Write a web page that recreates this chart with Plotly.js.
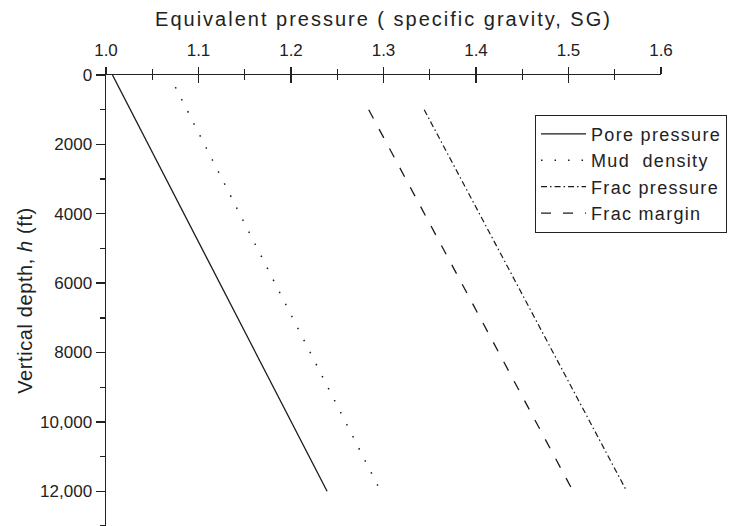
<!DOCTYPE html>
<html>
<head>
<meta charset="utf-8">
<script src="https://cdn.plot.ly/plotly-3.0.1.min.js"></script>
<style>
html,body{margin:0;padding:0;background:#fff;}
#chart{width:729px;height:526px;}
.xtitle{letter-spacing:2px;}
.ytitle{letter-spacing:0.6px;}
.legendtext{letter-spacing:1.3px;}
</style>
</head>
<body>
<div id="chart"></div>
<script>
// Data (depth in ft, equivalent pressure in SG)
const seriesNames = ["Pore pressure", "Mud  density", "Frac pressure", "Frac margin"];
const poreDepth = [0, 12000];
const poreSG = [1.007, 1.239];
const mudDepth = [350, 12000];
const mudSG = [1.075, 1.297];
const fracDepth = [1000, 12000];
const fracSG = [1.344, 1.563];
const marginDepth = [1000, 12000];
const marginSG = [1.284, 1.505];
const yTickVals = [0, 2000, 4000, 6000, 8000, 10000, 12000];
const yTickText = ["0", "2000", "4000", "6000", "8000", "10,000", "12,000"];
const xTickVals = [1.0, 1.1, 1.2, 1.3, 1.4, 1.5, 1.6];
const xTickText = ["1.0", "1.1", "1.2", "1.3", "1.4", "1.5", "1.6"];

const lineColor = "#1a1a1a";
const font = "Liberation Sans, Arial, sans-serif";

const traces = [
  {x: poreSG, y: poreDepth, name: seriesNames[0], mode: "lines",
   line: {color: lineColor, width: 1.3, dash: "solid"}},
  {x: mudSG, y: mudDepth, name: seriesNames[1], mode: "lines",
   line: {color: lineColor, width: 1.5, dash: "1.5px,12px"}},
  {x: fracSG, y: fracDepth, name: seriesNames[2], mode: "lines",
   line: {color: lineColor, width: 1.2, dash: "6px,3px,1.5px,3px"}},
  {x: marginSG, y: marginDepth, name: seriesNames[3], mode: "lines",
   line: {color: lineColor, width: 1.3, dash: "10px,12px"}},
  {x: [], y: [], xaxis: "x2", showlegend: false, hoverinfo: "skip"}
];

const axColor = "#222";
const layout = {
  width: 729, height: 526,
  margin: {l: 106, r: 68, t: 75, b: 0, pad: 0},
  paper_bgcolor: "#fff", plot_bgcolor: "#fff",
  font: {family: font, size: 17, color: "#222"},
  showlegend: true,
  legend: {
    x: 1.119, xanchor: "right", y: 0.912, yanchor: "top",
    bordercolor: "#222", borderwidth: 1, bgcolor: "#fff",
    font: {family: font, size: 18, color: "#222"},
    itemwidth: 45, tracegroupgap: 0
  },
  xaxis: {
    side: "top", range: [1.0, 1.6],
    tickvals: xTickVals, ticktext: xTickText,
    ticks: "outside", ticklen: 7, tickwidth: 1.3, tickcolor: axColor,
    ticklabelstandoff: 4,
    minor: {dtick: 0.05, tick0: 1.0, ticks: "outside", ticklen: 4.5, tickwidth: 1.3, tickcolor: axColor},
    showline: true, linecolor: axColor, linewidth: 1.5,
    showgrid: false, zeroline: false,
    tickfont: {family: font, size: 17, color: "#222"},
    title: {text: "Equivalent pressure ( specific gravity, SG)", font: {family: font, size: 20, color: "#222"}, standoff: 8}
  },
  xaxis2: {
    overlaying: "x", side: "top", range: [1.0, 1.6],
    tickvals: xTickVals, showticklabels: false,
    ticks: "inside", ticklen: 8, tickwidth: 1.3, tickcolor: axColor,
    minor: {dtick: 0.05, tick0: 1.0, ticks: "inside", ticklen: 4.5, tickwidth: 1.3, tickcolor: axColor},
    showline: false, showgrid: false, zeroline: false
  },
  yaxis: {
    range: [13000, 0],
    tickvals: yTickVals, ticktext: yTickText,
    ticks: "outside", ticklen: 9, tickwidth: 1.3, tickcolor: axColor,
    minor: {dtick: 1000, tick0: 0, ticks: "outside", ticklen: 5, tickwidth: 1.3, tickcolor: axColor},
    showline: true, linecolor: axColor, linewidth: 1.5,
    showgrid: false, zeroline: false,
    tickfont: {family: font, size: 17, color: "#222"},
    title: {text: "Vertical depth, <i>h</i> (ft)", font: {family: font, size: 20, color: "#222"}, standoff: 2}
  }
};

Plotly.newPlot("chart", traces, layout, {displayModeBar: false, staticPlot: true});
</script>
</body>
</html>
